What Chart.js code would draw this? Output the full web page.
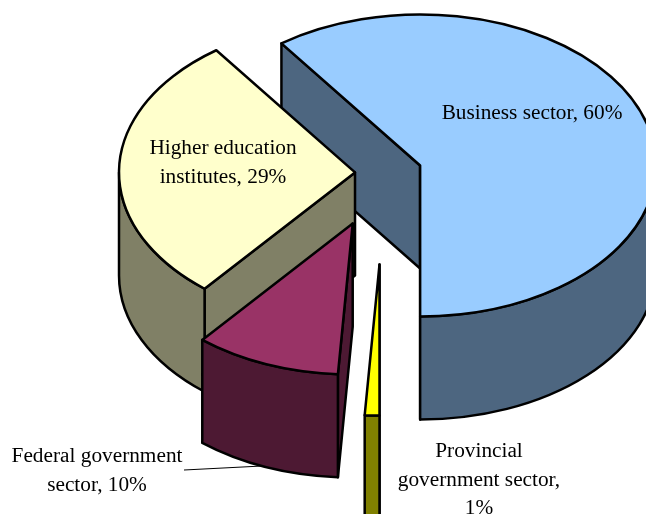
<!DOCTYPE html>
<html>
<head>
<meta charset="utf-8">
<style>
html,body{margin:0;padding:0;background:#fff;overflow:hidden}
#wrap{position:absolute;left:0;top:0;width:646px;height:514px}
</style>
<script src="https://cdn.jsdelivr.net/npm/chart.js@4"></script>
</head>
<body>
<div id="wrap"><canvas id="pie" width="646" height="514"></canvas></div>
<script>
// R&D performance by sector, shares in percent
const sectors = ['Business sector', 'Provincial government sector', 'Federal government sector', 'Higher education institutes'];
const shares = [60, 1, 10, 29];

// Appearance of each sector: top face, wall, distance pulled out of the pie
const topColours = ['#99CCFF', '#FFFF00', '#993366', '#FFFFCC'];
const wallColours = ['#4D6680', '#808000', '#4D1933', '#808066'];
const explode = [38, 143, 85, 29];

// Back-to-front paint order of the slices
const paintOrder = [0, 3, 2, 1];

// Pie projection
const RADIUS = 236;
const SQUASH = 151 / 236;
const DEPTH = 103;
const OUTLINE = 2.5;

// Text placed beside or on the slices, one entry per sector
const labelLines = [
  ['Business sector, 60%'],
  ['Provincial', 'government sector,', '1%'],
  ['Federal government', 'sector, 10%'],
  ['Higher education', 'institutes, 29%']
];
const labelAnchors = [[532, 119], [479, 457], [97, 462], [223, 154]];
const LINE_HEIGHT = 28.5;

function inProjection(ctx, cx, cy, fn) {
  ctx.save();
  ctx.translate(cx, cy);
  ctx.scale(1, SQUASH);
  fn();
  ctx.restore();
}

function drawSlice(ctx, arc, index) {
  const mid = (arc.startAngle + arc.endAngle) / 2;
  const cx = arc.x + Math.cos(mid) * explode[index];
  const cy = arc.y + Math.sin(mid) * explode[index] * SQUASH;
  const a = arc.startAngle;
  const b = arc.endAngle;
  const r = arc.outerRadius;
  const rim = t => [cx + Math.cos(t) * r, cy + Math.sin(t) * r * SQUASH];

  ctx.lineWidth = OUTLINE;
  ctx.lineJoin = 'round';
  ctx.strokeStyle = '#000';
  ctx.fillStyle = wallColours[index];

  // Flat cut faces that turn towards the viewer
  const face = t => {
    const [x, y] = rim(t);
    ctx.beginPath();
    ctx.moveTo(cx, cy);
    ctx.lineTo(x, y);
    ctx.lineTo(x, y + DEPTH);
    ctx.lineTo(cx, cy + DEPTH);
    ctx.closePath();
    ctx.fill();
    ctx.stroke();
  };
  if (Math.sin(a - Math.PI / 2) > -1e-6) face(a);
  if (Math.sin(b + Math.PI / 2) > -1e-6) face(b);

  // Curved outer wall, front half only
  const turn = Math.PI * 2;
  for (let k = -1; k <= 1; k++) {
    const from = Math.max(a, k * turn);
    const to = Math.min(b, k * turn + Math.PI);
    if (to <= from) continue;
    ctx.beginPath();
    inProjection(ctx, cx, cy, () => ctx.arc(0, 0, r, from, to));
    inProjection(ctx, cx, cy + DEPTH, () => ctx.arc(0, 0, r, to, from, true));
    ctx.closePath();
    ctx.fill();
    ctx.stroke();
  }

  // Top face is filled by the arc element itself, squashed into an ellipse
  ctx.save();
  ctx.translate(cx, cy);
  ctx.scale(1, SQUASH);
  ctx.translate(-arc.x, -arc.y);
  arc.draw(ctx);
  ctx.restore();

  ctx.beginPath();
  inProjection(ctx, cx, cy, () => {
    ctx.moveTo(0, 0);
    ctx.arc(0, 0, r, a, b);
    ctx.closePath();
  });
  ctx.stroke();
}

const pie3d = {
  id: 'pie3d',
  beforeDatasetDraw(chart, args) {
    const ctx = chart.ctx;
    const arcs = args.meta.data;
    paintOrder.forEach(i => drawSlice(ctx, arcs[i], i));
    return false;
  },
  afterDraw(chart) {
    const ctx = chart.ctx;
    // Leader line of the federal government label
    ctx.save();
    ctx.strokeStyle = '#000';
    ctx.lineWidth = 1;
    ctx.beginPath();
    ctx.moveTo(184, 470);
    ctx.lineTo(262, 466);
    ctx.stroke();

    ctx.fillStyle = '#000';
    ctx.font = '21.3px "Liberation Serif"';
    ctx.textAlign = 'center';
    ctx.textBaseline = 'alphabetic';
    labelLines.forEach((lines, i) => {
      const [x, y] = labelAnchors[i];
      lines.forEach((line, n) => ctx.fillText(line, x, y + n * LINE_HEIGHT));
    });
    ctx.restore();
  }
};

new Chart(document.getElementById('pie'), {
  type: 'pie',
  data: {
    labels: sectors,
    datasets: [{
      data: shares,
      backgroundColor: topColours,
      borderWidth: 0,
      hoverOffset: 0
    }]
  },
  options: {
    responsive: false,
    animation: false,
    rotation: 324,
    radius: RADIUS,
    layout: { padding: { left: 122, bottom: 168 } },
    events: [],
    plugins: { legend: { display: false }, tooltip: { enabled: false } }
  },
  plugins: [pie3d]
});
</script>
</body>
</html>
